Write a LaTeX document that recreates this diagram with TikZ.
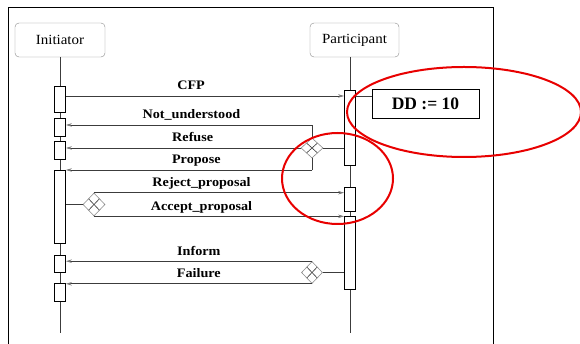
\documentclass[tikz,border=0pt]{standalone}
\usepackage{fontspec}
\setmainfont{Liberation Serif}
\newfontfamily\headfont[FakeStretch=1.07]{Liberation Serif}
\newfontfamily\msgfont[FakeStretch=1.09]{Liberation Serif}
\usetikzlibrary{arrows.meta,shapes.geometric,calc}
\definecolor{lifegray}{HTML}{3C3C3C}
\definecolor{boxgray}{HTML}{8A8A8A}
\definecolor{tipgray}{HTML}{7A7A7A}
\definecolor{ovalred}{HTML}{E80000}

\begin{document}
\begin{tikzpicture}[x=1pt,y=-1pt,
  head/.style={draw=boxgray,rounded corners=4pt,fill=white,minimum height=34pt,
            inner sep=0pt,font=\headfont\fontsize{14}{16}\selectfont},
  act/.style={draw=black,fill=white,minimum width=11pt,inner sep=0pt,line width=0.8pt},
  gate/.style={diamond,draw=boxgray,fill=white,inner sep=0pt,minimum width=22pt,
            minimum height=21pt,line width=0.6pt,
            path picture={\draw[lifegray,line width=0.6pt]
              ($(path picture bounding box.north)!.5!(path picture bounding box.west)$) --
              ($(path picture bounding box.south)!.5!(path picture bounding box.east)$)
              ($(path picture bounding box.north)!.5!(path picture bounding box.east)$) --
              ($(path picture bounding box.south)!.5!(path picture bounding box.west)$);}},
  life/.style={draw=lifegray,line width=0.7pt},
  msg/.style={draw=lifegray,line width=0.7pt,-{Stealth[length=6pt,width=3.5pt,color=tipgray]}},
  lbl/.style={font=\msgfont\fontsize{13}{15}\selectfont\bfseries,anchor=base,yshift=6pt,inner sep=0pt},
  oval/.style={draw=ovalred,line width=2pt}
]
\fill[white] (0,0) rectangle (580,344);
\useasboundingbox (0,0) rectangle (580,344);
\draw[line width=0.8pt] (8,344) -- (8,7) -- (493,7) -- (493,344);

% lifelines
\node[head,minimum width=90pt] (ini) at (60,40) {Initiator};
\node[head,minimum width=89pt] (par) at (354.5,40) {Participant};
\coordinate (il) at (60,333);
\coordinate (pl) at (350,333);
\draw[life] (ini.south) -- (il);
\draw[life] (par.south -| pl) -- (pl);

% activations
\node[act,minimum height=26pt] (i1) at (60,99) {};
\node[act,minimum height=18pt] (i2) at (60,127) {};
\node[act,minimum height=18pt] (i3) at (60,150) {};
\node[act,minimum height=73pt] (i4) at (60,206.5) {};
\node[act,minimum height=17pt] (i5) at (60,263.5) {};
\node[act,minimum height=18pt] (i6) at (60,292) {};
\node[act,minimum height=75pt] (p1) at (350,127.5) {};
\node[act,minimum height=24pt] (p2) at (350,199) {};
\node[act,minimum height=73pt] (p3) at (350,252.5) {};

% gates
\node[gate,minimum height=20pt] (g1) at (312,148) {};
\node[gate,minimum height=23pt] (g2) at (94,204.5) {};
\node[gate,minimum width=21pt,minimum height=22pt] (g3) at (312,272.5) {};

\node[draw=black,line width=0.8pt,minimum width=107pt,minimum height=29pt,
      font=\fontsize{17.5}{20}\selectfont\bfseries] (dd) at (425.5,103.5) {DD := 10};

\coordinate (cfp) at (0,96);
\coordinate (nu) at (0,125);
\coordinate (pro) at (0,170);

% messages
\draw[msg] (i1.east |- cfp) -- node[lbl,pos=.45]{CFP} (p1.west |- cfp);
\draw[life] (p1.east |- cfp) -- (dd.west |- cfp);
\draw[life] (p1.west |- g1) -- (g1.east);
\draw[life] (g1.north) -- (g1.north |- nu);
\draw[msg] (g1.north |- nu) -- node[lbl,pos=.49]{Not\_understood} (i2.east |- nu);
\draw[msg] (g1.west) -- node[lbl,pos=.46]{Refuse} (i3.east |- g1);
\draw[life] (g1.south) -- (g1.south |- pro);
\draw[msg] (g1.south |- pro) -- node[lbl,pos=.47]{Propose} (i4.east |- pro);
\draw[life] (i4.east |- g2) -- (g2.west);
\draw[msg] (g2.north) -- node[lbl,pos=.43]{Reject\_proposal} (p2.west |- g2.north);
\draw[msg] (g2.south) -- node[lbl,pos=.43]{Accept\_proposal} (p3.west |- g2.south);
\draw[life] (p3.west |- g3) -- (g3.east);
\draw[msg] (g3.north) -- node[lbl,pos=.46]{Inform} (i5.east |- g3.north);
\draw[msg] (g3.south) -- node[lbl,pos=.46]{Failure} (i6.east |- g3.south);

% highlights
\draw[oval] (464,112) ellipse [x radius=117pt,y radius=45pt];
\draw[oval] (337.5,178.5) ellipse [x radius=55.5pt,y radius=45.5pt];
\end{tikzpicture}
\end{document}
